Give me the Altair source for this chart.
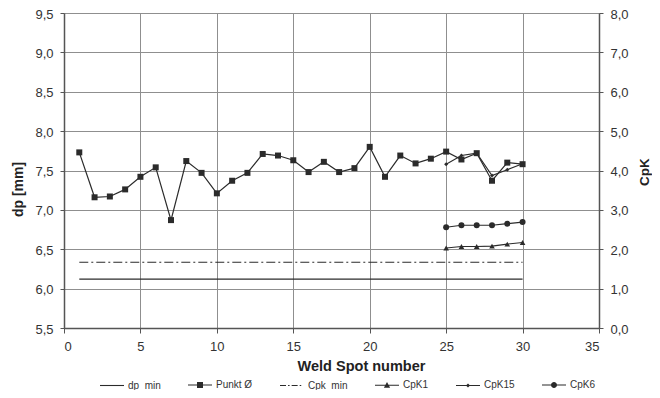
import altair as alt
import pandas as pd

# ---------------- data ----------------
spots = list(range(1, 31))
punkt = [7.73, 7.16, 7.17, 7.26, 7.42, 7.54, 6.87, 7.62, 7.47, 7.21,
         7.37, 7.47, 7.71, 7.69, 7.63, 7.48, 7.61, 7.48, 7.53, 7.80,
         7.42, 7.69, 7.59, 7.65, 7.74, 7.64, 7.72, 7.37, 7.60, 7.58]
cpk_spots = [25, 26, 27, 28, 29, 30]
cpk1 = [2.03, 2.07, 2.07, 2.08, 2.13, 2.17]
cpk15 = [4.16, 4.38, 4.44, 3.87, 4.02, 4.17]
cpk6 = [2.56, 2.61, 2.61, 2.61, 2.65, 2.69]
limit_spots = [1, 30]
dp_min = [6.12, 6.12]
cpk_min = [1.67, 1.67]

series_names = ["dp_min", "Punkt Ø", "Cpk_min", "CpK1", "CpK15", "CpK6"]
x_ticks = [0, 5, 10, 15, 20, 25, 30, 35]
dp_ticks = [5.5, 6.0, 6.5, 7.0, 7.5, 8.0, 8.5, 9.0, 9.5]
cpk_ticks = [0, 1, 2, 3, 4, 5, 6, 7, 8]

INK = "#2b2b2b"
GRID = "#8f8f8f"
AXIS = "#555555"
FONT = "Liberation Sans"

# ---------------- tables ----------------
def rows(xs, vs, name):
    return [{"x": x, "value": v, "series": name} for x, v in zip(xs, vs)]

dp_df = pd.DataFrame(rows(limit_spots, dp_min, "dp_min") + rows(spots, punkt, "Punkt Ø"))
cpk_df = pd.DataFrame(rows(limit_spots, cpk_min, "Cpk_min") + rows(cpk_spots, cpk1, "CpK1")
                      + rows(cpk_spots, cpk15, "CpK15") + rows(cpk_spots, cpk6, "CpK6"))
legend_df = pd.DataFrame({"series": series_names})

comma = "replace(format(datum.value, '.1f'), '.', ',')"

x_axis = alt.Axis(values=x_ticks, title="Weld Spot number", grid=True, gridColor=GRID,
                  gridWidth=1, tickSize=5, tickColor=AXIS, domainColor=AXIS, domainWidth=1.5,
                  labelFontSize=13, labelPadding=7, labelColor="#333", labelFont=FONT,
                  titleFont=FONT, titleFontSize=14.5, titleFontWeight="bold", titleColor="#222",
                  titleX=297, titleY=38, titleBaseline="middle", titleAlign="center")
left_axis = alt.Axis(values=dp_ticks, labelExpr=comma, title="dp [mm]", grid=True, gridColor=GRID,
                     gridWidth=1, tickSize=4, tickColor=AXIS, domainColor=AXIS, domainWidth=1.5,
                     labelFontSize=13, labelPadding=7, labelOffset=1, labelColor="#333",
                     labelFont=FONT, titleFont=FONT, titleFontSize=14, titleFontWeight="bold",
                     titleColor="#222", titleAngle=270, titleX=-46, titleY=176,
                     titleBaseline="middle")
right_axis = alt.Axis(values=cpk_ticks, labelExpr=comma, title="CpK", orient="right", grid=False,
                      tickSize=4, tickColor=AXIS, domainColor=AXIS, domainWidth=1.5,
                      labelFontSize=13, labelPadding=7, labelOffset=1, labelColor="#333",
                      labelFont=FONT, titleFont=FONT, titleFontSize=13.5, titleFontWeight="bold",
                      titleColor="#222", titleAngle=270, titleX=45, titleY=158.5,
                      titleBaseline="middle")

X = alt.X("x:Q", scale=alt.Scale(domain=[0, 35], nice=False, zero=False), axis=x_axis)
Y_dp = alt.Y("value:Q", scale=alt.Scale(domain=[5.5, 9.5], nice=False, zero=False), axis=left_axis)
Y_cpk = alt.Y("value:Q", scale=alt.Scale(domain=[0, 8], nice=False, zero=False), axis=right_axis)

base_dp = alt.Chart(dp_df).encode(x=X, y=Y_dp)
dp_lines = base_dp.mark_line(color=INK, strokeWidth=1.2).encode(detail="series:N")
dp_points = base_dp.transform_filter(alt.datum.series == "Punkt Ø").mark_point(
    shape="square", filled=True, size=36, color=INK, opacity=1)
left = alt.layer(dp_lines, dp_points)

base_cpk = alt.Chart(cpk_df).encode(x=X, y=Y_cpk)
cpkmin_line = base_cpk.transform_filter(alt.datum.series == "Cpk_min").mark_line(
    color=INK, strokeWidth=1.2, strokeDash=[9, 3, 2, 3])
cpk_lines = base_cpk.transform_filter(alt.datum.series != "Cpk_min").mark_line(
    color=INK, strokeWidth=1.1).encode(detail="series:N")
p1 = base_cpk.transform_filter(alt.datum.series == "CpK1").mark_point(
    shape="triangle-up", filled=True, size=32, color=INK, opacity=1)
p15 = base_cpk.transform_filter(alt.datum.series == "CpK15").mark_point(
    shape="diamond", filled=True, size=16, color=INK, opacity=1)
p6 = base_cpk.transform_filter(alt.datum.series == "CpK6").mark_point(
    shape="circle", filled=True, size=36, color=INK, opacity=1)
right = alt.layer(cpkmin_line, cpk_lines, p1, p15, p6)

# legend glyphs drawn as filled areas: a thin bar (the line) plus the series marker
BAR = "M-1,-0.045L1,-0.045L1,0.045L-1,0.045Z"
legend_paths = [
    BAR,
    BAR + "M-0.25,-0.25L0.25,-0.25L0.25,0.25L-0.25,0.25Z",
    "M-1,-0.045L-0.5,-0.045L-0.5,0.045L-1,0.045Z"
    "M-0.33,-0.045L-0.2,-0.045L-0.2,0.045L-0.33,0.045Z"
    "M-0.03,-0.045L0.47,-0.045L0.47,0.045L-0.03,0.045Z"
    "M0.64,-0.045L0.77,-0.045L0.77,0.045L0.64,0.045Z",
    BAR + "M0,-0.28L0.26,0.2L-0.26,0.2Z",
    BAR + "M0,-0.17L0.17,0L0,0.17L-0.17,0Z",
    BAR + "M0.25,0A0.25,0.25 0 1,1 -0.25,0A0.25,0.25 0 1,1 0.25,0Z",
]
legend_layer = alt.Chart(legend_df).mark_point(
    filled=True, color=INK, opacity=0
).encode(
    shape=alt.Shape("series:N", scale=alt.Scale(domain=series_names, range=legend_paths),
                    legend=alt.Legend(title=None, orient="none", legendX=35, legendY=359,
                                      direction="horizontal", columns=6, symbolSize=576,
                                      symbolFillColor=INK, symbolOpacity=1,
                                      labelFontSize=10, labelFont=FONT, labelColor="#333",
                                      labelOffset=3, columnPadding=24))
)

chart = alt.layer(left, right, legend_layer).resolve_scale(y="independent").properties(
    width=535, height=315,
    padding={"left": 56, "top": 5, "right": 53, "bottom": 62},
    autosize=alt.AutoSizeParams(type="none"),
    background="white",
).configure_view(stroke=None)

chart.save("out.html", embed_options={"renderer": "svg", "actions": False})
